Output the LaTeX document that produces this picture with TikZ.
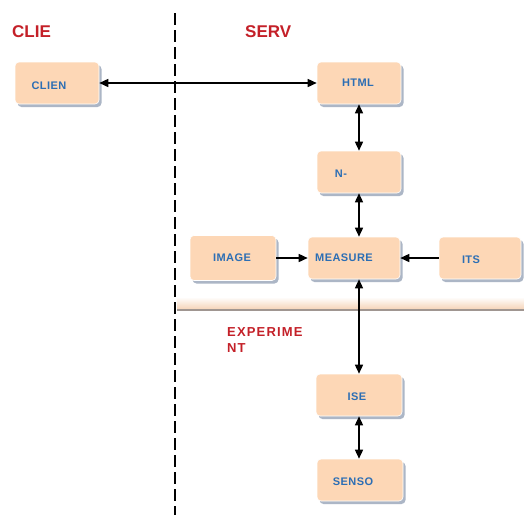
\documentclass[tikz,border=0pt]{standalone}
\usepackage{fontspec}
\setmainfont{Liberation Sans}
\usetikzlibrary{arrows.meta,shadows,shapes.misc}
\definecolor{peach}{RGB}{253,215,182}
\definecolor{shadowc}{RGB}{172,182,198}
\definecolor{titlered}{RGB}{196,32,40}
\definecolor{boxblue}{RGB}{44,110,180}
\definecolor{bandc}{RGB}{245,212,185}
\definecolor{bandline}{RGB}{160,150,145}
\begin{document}
\begin{tikzpicture}[x=1pt,y=-1pt,
  box/.style={rounded corners=4pt, fill=peach, draw=white, line width=0.6pt,
    minimum width=84pt, minimum height=42pt, inner sep=0pt,
    drop shadow={shadow xshift=2.5pt,shadow yshift=-3pt,fill=shadowc,opacity=1}},
  boxtext/.style={text=boxblue, font=\fontsize{11}{12}\selectfont\bfseries\addfontfeature{LetterSpace=4}, inner sep=0pt},
  title/.style={text=titlered, font=\fontsize{17}{19}\selectfont\bfseries, inner sep=0pt, anchor=west},
  link/.style={line width=1.5pt, {Triangle[length=9pt,width=8pt]}-{Triangle[length=9pt,width=8pt]}},
  onelink/.style={line width=1.5pt, -{Triangle[length=9pt,width=8pt]}}
]
\useasboundingbox (0,0) rectangle (524,515);
\fill[white] (0,0) rectangle (524,515);

% dashed divider
\coordinate (dtop) at (175,13);
\coordinate (dbot) at (175,515);
\draw[line width=1.3pt, dash pattern=on 12pt off 5pt] (dtop) -- (dbot);

% horizontal band
\fill[top color=white, bottom color=bandc] (177,297) rectangle (524,309);
\fill[bandline] (177,309) rectangle (524,311);

% titles
\node[title] (tclie) at (12,32) {CLIE};
\node[title] (tserv) at (245,32) {SERV};
\node[title, font=\fontsize{13}{15}\selectfont\bfseries\addfontfeature{LetterSpace=9}, align=left, anchor=north west] (texp) at (227,327) {EXPERIME\\[1pt]NT};

% boxes
\node[box] (clien) at (57,83) {};
\node[box] (html) at (359,83) {};
\node[box] (n) at (359,172) {};
\node[box, minimum width=92pt] (measure) at (354,258) {};
\node[box, minimum width=86pt, minimum height=45pt] (image) at (233,258) {};
\node[box, minimum width=82pt] (its) at (480,258) {};
\node[box, minimum width=86pt] (ise) at (359,395) {};
\node[box, minimum width=86pt] (senso) at (360,480) {};

% box texts
\node[boxtext] (lclien) at (49,86) {CLIEN};
\node[boxtext] (lhtml) at (358,83) {HTML};
\node[boxtext] (ln) at (341,174) {N-};
\node[boxtext] (lmeasure) at (344,258) {MEASURE};
\node[boxtext] (limage) at (232,258) {IMAGE};
\node[boxtext] (lits) at (471,260) {ITS};
\node[boxtext] (lise) at (357,397) {ISE};
\node[boxtext] (lsenso) at (353,482) {SENSO};

% connectors
\draw[link] (clien.east) -- (html.west);
\draw[link] (html.south) -- (n.north);
\draw[link] (n.south) -- (n.south |- measure.north);
\draw[onelink] (image.east) -- (image.east -| measure.west);
\draw[onelink] (its.west) -- (its.west -| measure.east);
\draw[link] (measure.south -| ise.north) -- (ise.north);
\draw[link] (ise.south) -- (ise.south |- senso.north);
\end{tikzpicture}
\end{document}
